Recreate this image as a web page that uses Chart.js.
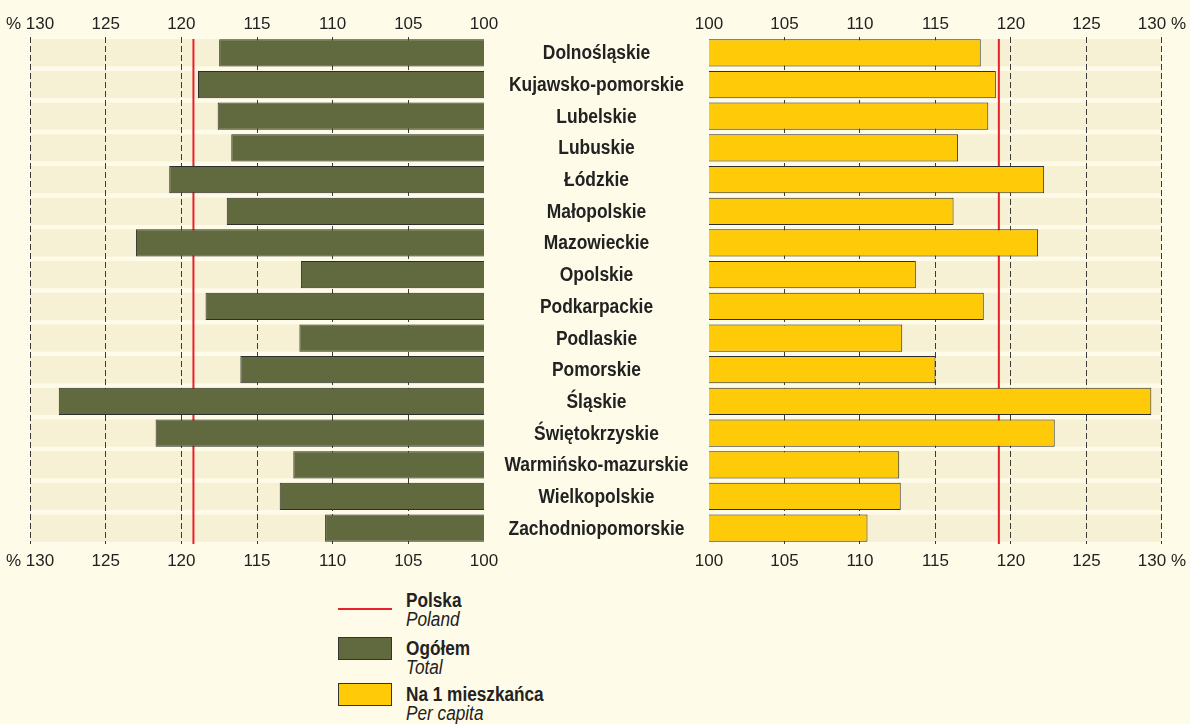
<!DOCTYPE html>
<html>
<head>
<meta charset="utf-8">
<script src="https://cdn.jsdelivr.net/npm/chart.js@4.4.0/dist/chart.umd.min.js"></script>
<style>
    body {
        margin: 0;
        width: 1190px;
        height: 724px;
        overflow: hidden;
        position: relative;
        background: #fffbe9;
        color: #222;
        font-family: 'Liberation Sans', Arial, sans-serif;
    }
    #leftWrap { position: absolute; left: 0; top: 0; width: 514px; height: 580px; }
    #rightWrap { position: absolute; left: 484px; top: 0; width: 706px; height: 580px; }
    .legend-mark { position: absolute; left: 338px; width: 54px; box-sizing: border-box; }
    .legend-text {
        position: absolute;
        left: 406px;
        font-size: 20px;
        line-height: 19px;
        white-space: nowrap;
        transform: scaleX(0.86);
        transform-origin: left top;
    }
    .legend-text b { display: block; }
    .legend-text i { display: block; }
</style>
</head>
<body>
<div id="leftWrap"><canvas id="totalChart"></canvas></div>
<div id="rightWrap"><canvas id="perCapitaChart"></canvas></div>

<div class="legend-mark" style="top:608px;height:2px;background:#e8202a;"></div>
<div class="legend-text" style="top:591px;"><b>Polska</b><i>Poland</i></div>
<div class="legend-mark" style="top:637px;height:23px;background:#606a3e;border:1px solid #333;"></div>
<div class="legend-text" style="top:639px;"><b>Ogółem</b><i>Total</i></div>
<div class="legend-mark" style="top:683px;height:23px;background:#ffca08;border:1px solid #333;"></div>
<div class="legend-text" style="top:685px;"><b>Na 1 mieszkańca</b><i>Per capita</i></div>

<script>
// Data
const regions = [
    'Dolnośląskie', 'Kujawsko-pomorskie', 'Lubelskie', 'Lubuskie', 'Łódzkie',
    'Małopolskie', 'Mazowieckie', 'Opolskie', 'Podkarpackie', 'Podlaskie',
    'Pomorskie', 'Śląskie', 'Świętokrzyskie', 'Warmińsko-mazurskie',
    'Wielkopolskie', 'Zachodniopomorskie'
];
const totalValues = [117.5, 118.9, 117.6, 116.7, 120.8, 117.0, 123.0, 112.1,
    118.4, 112.2, 116.1, 128.1, 121.7, 112.6, 113.5, 110.5];
const perCapitaValues = [118.0, 119.0, 118.5, 116.5, 122.2, 116.2, 121.8, 113.7,
    118.2, 112.8, 115.0, 129.3, 122.9, 112.6, 112.7, 110.5];
const polandLevel = 119.2;
const axisMin = 100;
const axisMax = 130;
const axisStep = 5;

const FONT = "'Liberation Sans', Arial, sans-serif";
Chart.defaults.font.family = FONT;
Chart.defaults.color = '#222';

const BAR_SHARE = 0.86;

// Beige row bands behind the bars
const rowBands = {
    id: 'rowBands',
    beforeDraw(chart) {
        const { ctx, chartArea, scales } = chart;
        const row = (chartArea.bottom - chartArea.top) / regions.length;
        ctx.save();
        ctx.fillStyle = '#f6f0d5';
        regions.forEach((r, i) => {
            const c = scales.y.getPixelForValue(i);
            ctx.fillRect(chartArea.left, c - row * BAR_SHARE / 2, chartArea.right - chartArea.left, row * BAR_SHARE);
        });
        ctx.restore();
    }
};

// Red reference line (Polska), under the bars
const polandLine = {
    id: 'polandLine',
    beforeDatasetsDraw(chart) {
        const { ctx, chartArea, scales } = chart;
        const x = scales.x.getPixelForValue(polandLevel);
        ctx.save();
        ctx.strokeStyle = '#e8202a';
        ctx.lineWidth = 2;
        ctx.beginPath();
        ctx.moveTo(x, chartArea.top + 2);
        ctx.lineTo(x, chartArea.bottom);
        ctx.stroke();
        ctx.restore();
    }
};

// Region names in the gap between the two panels (squeezed to look condensed)
const regionLabels = {
    id: 'regionLabels',
    afterDraw(chart) {
        const { ctx, chartArea, scales } = chart;
        const squeeze = 0.87;
        ctx.save();
        ctx.font = 'bold 20px ' + FONT;
        ctx.fillStyle = '#222';
        ctx.textAlign = 'center';
        ctx.textBaseline = 'middle';
        ctx.scale(squeeze, 1);
        regions.forEach((r, i) => {
            ctx.fillText(r, (chartArea.left / 2) / squeeze, scales.y.getPixelForValue(i) + 1);
        });
        ctx.restore();
    }
};

function xScale(position, reverse, pctLabel, showGrid, fitHeight, pad, lineH) {
    return {
        type: 'linear',
        position: position,
        min: axisMin,
        max: axisMax,
        reverse: reverse,
        afterFit: (scale) => { scale.height = fitHeight; },
        ticks: {
            stepSize: axisStep,
            padding: pad,
            font: { size: 17, lineHeight: lineH },
            color: '#222',
            callback: (v) => v === axisMax ? pctLabel : v
        },
        grid: {
            display: showGrid,
            drawTicks: false,
            lineWidth: 1,
            color: (c) => c.tick && c.tick.value === axisMin ? 'rgba(0,0,0,0)' : '#3a3a3a'
        },
        border: { display: false, dash: [6, 3] }
    };
}

function makeChart(canvasId, values, color, reverse, pctLabel, padding, extraPlugins) {
    const ctx = document.getElementById(canvasId).getContext('2d');
    return new Chart(ctx, {
        type: 'bar',
        data: {
            labels: regions,
            datasets: [{
                data: values,
                backgroundColor: color,
                borderColor: '#2e2e2e',
                borderWidth: 1,
                borderSkipped: false,
                categoryPercentage: 1,
                barPercentage: BAR_SHARE
            }]
        },
        options: {
            indexAxis: 'y',
            responsive: true,
            maintainAspectRatio: false,
            animation: false,
            layout: { padding: padding },
            scales: {
                x: xScale('bottom', reverse, pctLabel, true, 36, 4, 1.55),
                xTop: xScale('top', reverse, pctLabel, false, 37, 2, 1.2),
                y: { type: 'category', display: false }
            },
            plugins: {
                legend: { display: false },
                tooltip: { enabled: false }
            }
        },
        plugins: [rowBands, polandLine].concat(extraPlugins)
    });
}

makeChart('totalChart', totalValues, '#606a3e', true, '% 130',
    { left: 30, right: 30, top: 0, bottom: 0 }, []);
makeChart('perCapitaChart', perCapitaValues, '#ffca08', false, '130 %',
    { left: 225, right: 27, top: 0, bottom: 0 }, [regionLabels]);
</script>
</body>
</html>
